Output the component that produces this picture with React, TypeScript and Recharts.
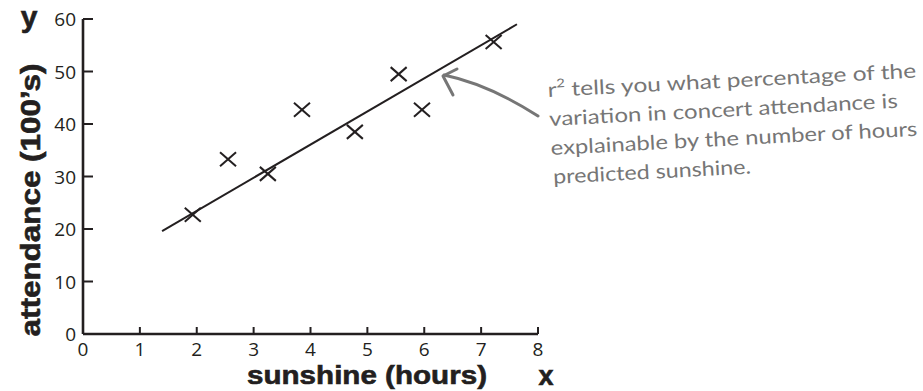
import { ReferenceLine, Scatter, ScatterChart, XAxis, YAxis, ZAxis } from 'recharts'

// hours of predicted sunshine vs concert attendance (100's)
const sunshineHours = [1.93, 2.55, 3.25, 3.85, 4.78, 5.55, 5.96, 7.22]
const attendance = [22.7, 33.3, 30.5, 42.7, 38.5, 49.5, 42.7, 55.6]
const fitLine = [
  { x: 1.39, y: 19.6 },
  { x: 7.63, y: 59.0 },
]
const xTicks = [0, 1, 2, 3, 4, 5, 6, 7, 8]
const yTicks = [0, 10, 20, 30, 40, 50, 60]
const noteLines = [
  'tells you what percentage of the',
  'variation in concert attendance is',
  'explainable by the number of hours',
  'predicted sunshine.',
]

const points = sunshineHours.map((x, i) => ({ x, y: attendance[i] }))

const INK = '#231f20'
const GREY = '#767676'
const tickFont = "'Open Sans', sans-serif"
const titleFont = "'Liberation Sans', Arial, sans-serif"
const noteFont = "Lato, 'Open Sans', sans-serif"

function XTick({ x, y, payload }: any) {
  return (
    <g>
      <line x1={x} y1={y} x2={x} y2={y - 7} stroke={INK} strokeWidth={2} />
      <text x={x} y={y + 22} textAnchor="middle" fontSize={19} fontFamily={tickFont} fill={INK}>
        {payload.value}
      </text>
    </g>
  )
}

function YTick({ x, y, payload }: any) {
  return (
    <g>
      <line x1={x} y1={y} x2={x + 10} y2={y} stroke={INK} strokeWidth={2} />
      <text x={x - 7} y={y + 7} textAnchor="end" fontSize={19} fontFamily={tickFont} fill={INK}>
        {payload.value}
      </text>
    </g>
  )
}

function Cross({ cx, cy }: any) {
  return (
    <g stroke={INK} strokeWidth={2}>
      <line x1={cx - 8} y1={cy - 7} x2={cx + 8} y2={cy + 7} />
      <line x1={cx - 8} y1={cy + 7} x2={cx + 8} y2={cy - 7} />
    </g>
  )
}

export default function App() {
  return (
    <div style={{ position: 'absolute', left: 0, top: 0, width: 923, height: 391, background: '#fff' }}>
      <ScatterChart width={923} height={391} margin={{ top: 19, right: 385, bottom: 27, left: 0 }}>
        <XAxis
          type="number"
          dataKey="x"
          domain={[0, 8]}
          ticks={xTicks}
          interval={0}
          height={30}
          tickLine={false}
          tickSize={0}
          tickMargin={0}
          tick={<XTick />}
          axisLine={{ stroke: INK, strokeWidth: 2.6 }}
        />
        <YAxis
          type="number"
          dataKey="y"
          domain={[0, 60]}
          ticks={yTicks}
          interval={0}
          width={83}
          tickLine={false}
          tickSize={0}
          tickMargin={0}
          tick={<YTick />}
          axisLine={{ stroke: INK, strokeWidth: 2.6 }}
        />
        <ZAxis range={[200, 200]} />
        <ReferenceLine segment={fitLine} stroke={INK} strokeWidth={2} ifOverflow="visible" />
        <Scatter data={points} shape={<Cross />} isAnimationActive={false} />
      </ScatterChart>

      <svg width={923} height={391} style={{ position: 'absolute', left: 0, top: 0, pointerEvents: 'none' }}>
        <text x={29} y={27} textAnchor="middle" fontSize={30} fontWeight={900} fontFamily={titleFont} fill={INK} stroke={INK} strokeWidth={0.6}>
          y
        </text>
        <text
          x={40}
          y={200}
          transform="rotate(-90, 40, 200)"
          textAnchor="middle"
          fontSize={27}
          fontWeight={900}
          fontFamily={titleFont}
          fill={INK}
          stroke={INK}
          strokeWidth={0.6}
          textLength={273}
          lengthAdjust="spacingAndGlyphs"
        >
          attendance (100’s)
        </text>
        <text
          x={367}
          y={384}
          textAnchor="middle"
          fontSize={26}
          fontWeight={900}
          fontFamily={titleFont}
          fill={INK}
          stroke={INK}
          strokeWidth={0.6}
          textLength={240}
          lengthAdjust="spacingAndGlyphs"
        >
          sunshine (hours)
        </text>
        <text x={546} y={385} textAnchor="middle" fontSize={27} fontWeight={900} fontFamily={titleFont} fill={INK} stroke={INK} strokeWidth={0.6}>
          x
        </text>

        {/* arrow pointing at the fitted line */}
        <g stroke={GREY} strokeWidth={3} fill="none" strokeLinecap="round" strokeLinejoin="round">
          <path d="M538,116 Q488,84 444,75" />
          <path d="M457,69 L443,76 L453,95" />
        </g>

        <g transform="rotate(-3, 548, 97)" fill={GREY} fontFamily={noteFont} fontSize={20}>
          <text x={548} y={97} textLength={369} lengthAdjust="spacingAndGlyphs">
            r<tspan fontSize={12} dy={-9}>2</tspan>
            <tspan dy={9}> {noteLines[0]}</tspan>
          </text>
          <text x={548} y={126} textLength={349} lengthAdjust="spacingAndGlyphs">
            {noteLines[1]}
          </text>
          <text x={548} y={155} textLength={367} lengthAdjust="spacingAndGlyphs">
            {noteLines[2]}
          </text>
          <text x={549} y={184} textLength={198} lengthAdjust="spacingAndGlyphs">
            {noteLines[3]}
          </text>
        </g>
      </svg>
    </div>
  )
}
